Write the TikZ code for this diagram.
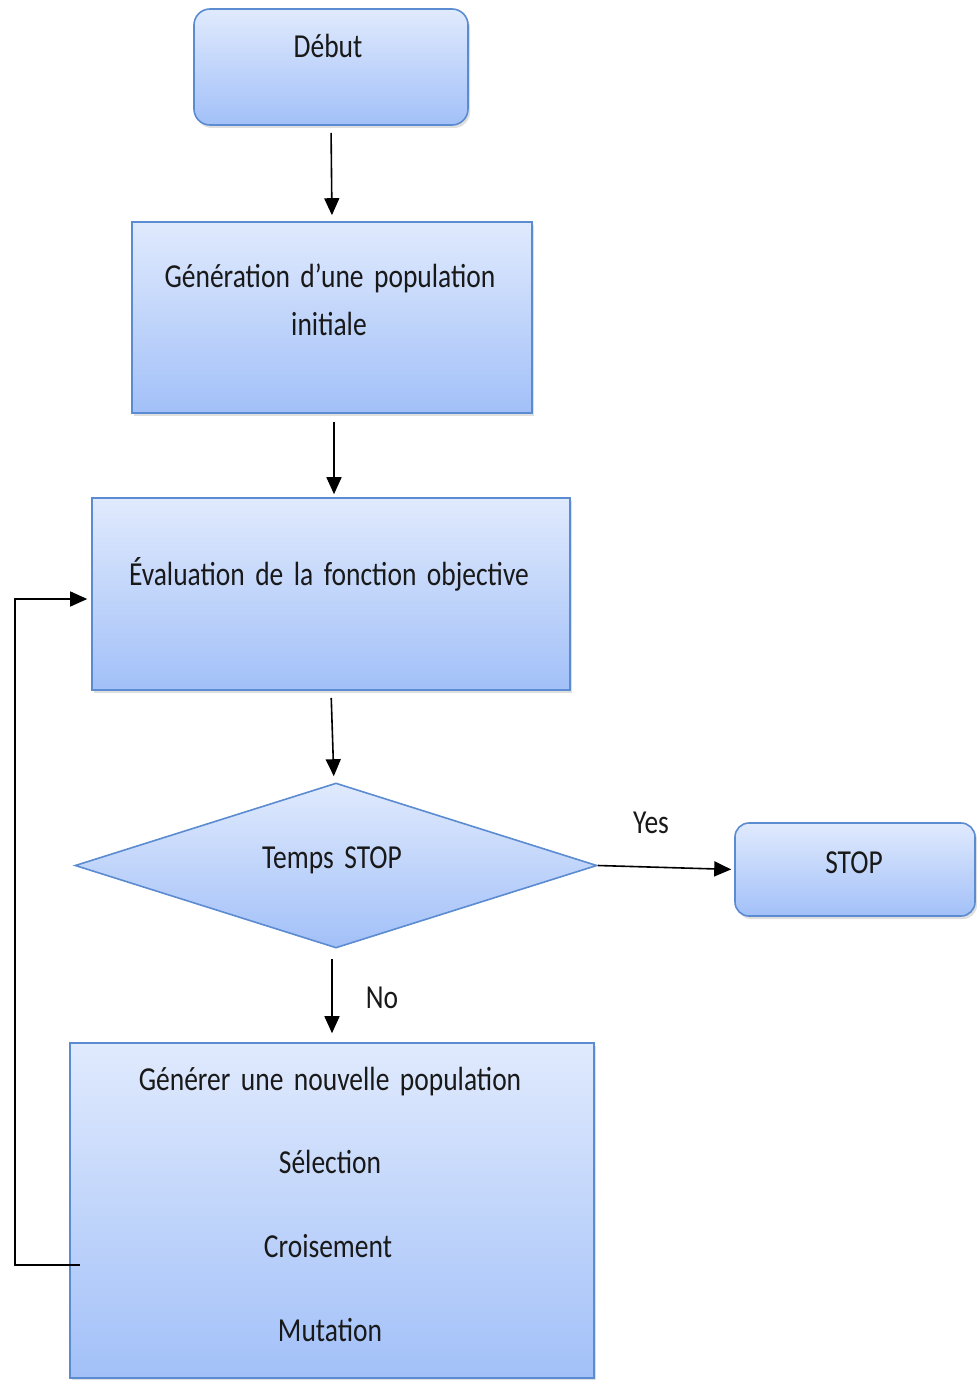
\documentclass[tikz,border=0pt]{standalone}
\usepackage{fontspec}
\usepackage{graphicx}
\setmainfont{Carlito}
\usetikzlibrary{shapes.geometric,arrows.meta,shadows}
\definecolor{bordc}{HTML}{5B8BD0}
\definecolor{topc}{HTML}{E0EAFD}
\definecolor{botc}{HTML}{A2C0F8}
\newcommand{\tx}[1]{\spaceskip=0.38em\relax\scalebox{1}[1.22]{#1}}
\begin{document}
\begin{tikzpicture}[x=1pt,y=-1pt,
  box/.style={draw=bordc, line width=1.6pt, top color=topc, bottom color=botc,
    inner sep=0pt, drop shadow={shadow xshift=2pt, shadow yshift=-3pt, opacity=0.25}},
  rbox/.style={box, rounded corners=16pt},
  dia/.style={diamond, draw=bordc, line width=1.6pt, top color=topc, bottom color=botc, inner sep=0pt},
  txt/.style={anchor=base, inner sep=0pt, text=black!90,
    font=\fontsize{27.5pt}{33pt}\selectfont},
  arr/.style={line width=1.6pt, -{Triangle[length=17pt,width=15pt]}}]
\useasboundingbox (0,0) rectangle (977,1380);

% boxes
\node[rbox, minimum width=274pt, minimum height=116pt] (start) at (331,67) {};
\node[box, minimum width=400pt, minimum height=191pt] (gen) at (332,317.5) {};
\node[box, minimum width=478pt, minimum height=192pt] (eval) at (331,594) {};
\node[dia, minimum width=522pt, minimum height=165pt] (dec) at (336,865.5) {};
\node[rbox, rounded corners=14pt, minimum width=240pt, minimum height=93pt] (stop) at (855,869.5) {};
\node[box, minimum width=524pt, minimum height=335pt] (newpop) at (332,1210.5) {};

% texts
\node[txt] (tstart) at (328,58) {\tx{Début}};
\node[txt] (tgen1) at (330,287) {\tx{Génération d’une population}};
\node[txt] (tgen2) at (329,335) {\tx{initiale}};
\node[txt] (teval) at (329,585) {\tx{Évaluation de la fonction objective}};
\node[txt] (tdec) at (332,868) {\tx{Temps STOP}};
\node[txt] (tstop) at (854,873) {\tx{STOP}};
\node[txt] (tnew1) at (330,1090) {\tx{Générer une nouvelle population}};
\node[txt] (tnew2) at (330,1173) {\tx{Sélection}};
\node[txt] (tnew3) at (328,1257) {\tx{Croisement}};
\node[txt] (tnew4) at (330,1341) {\tx{Mutation}};
\node[txt] (tyes) at (651,833) {\tx{Yes}};
\node[txt] (tno) at (382,1008) {\tx{No}};

% connectors
\draw[arr, shorten <=7pt, shorten >=6pt] (start.south) -- (gen.north);
\draw[arr, shorten <=8pt, shorten >=3pt] ([xshift=2pt]gen.south) -- ([xshift=3pt]eval.north);
\draw[arr, shorten <=7pt, shorten >=6pt] (eval.south) -- ([xshift=-2pt]dec.north);
\draw[arr, shorten <=10pt, shorten >=9pt] ([xshift=-4pt]dec.south) -- (newpop.north);
\draw[arr, shorten >=3pt] (dec.east) -- (stop.west);
\coordinate (lb) at (80,1265);
\coordinate (lc) at (15,1265);
\draw[arr, line width=1.4pt, shorten >=4pt] (lb) -- (lc) |- ([yshift=-5pt]eval.west);
\end{tikzpicture}
\end{document}
